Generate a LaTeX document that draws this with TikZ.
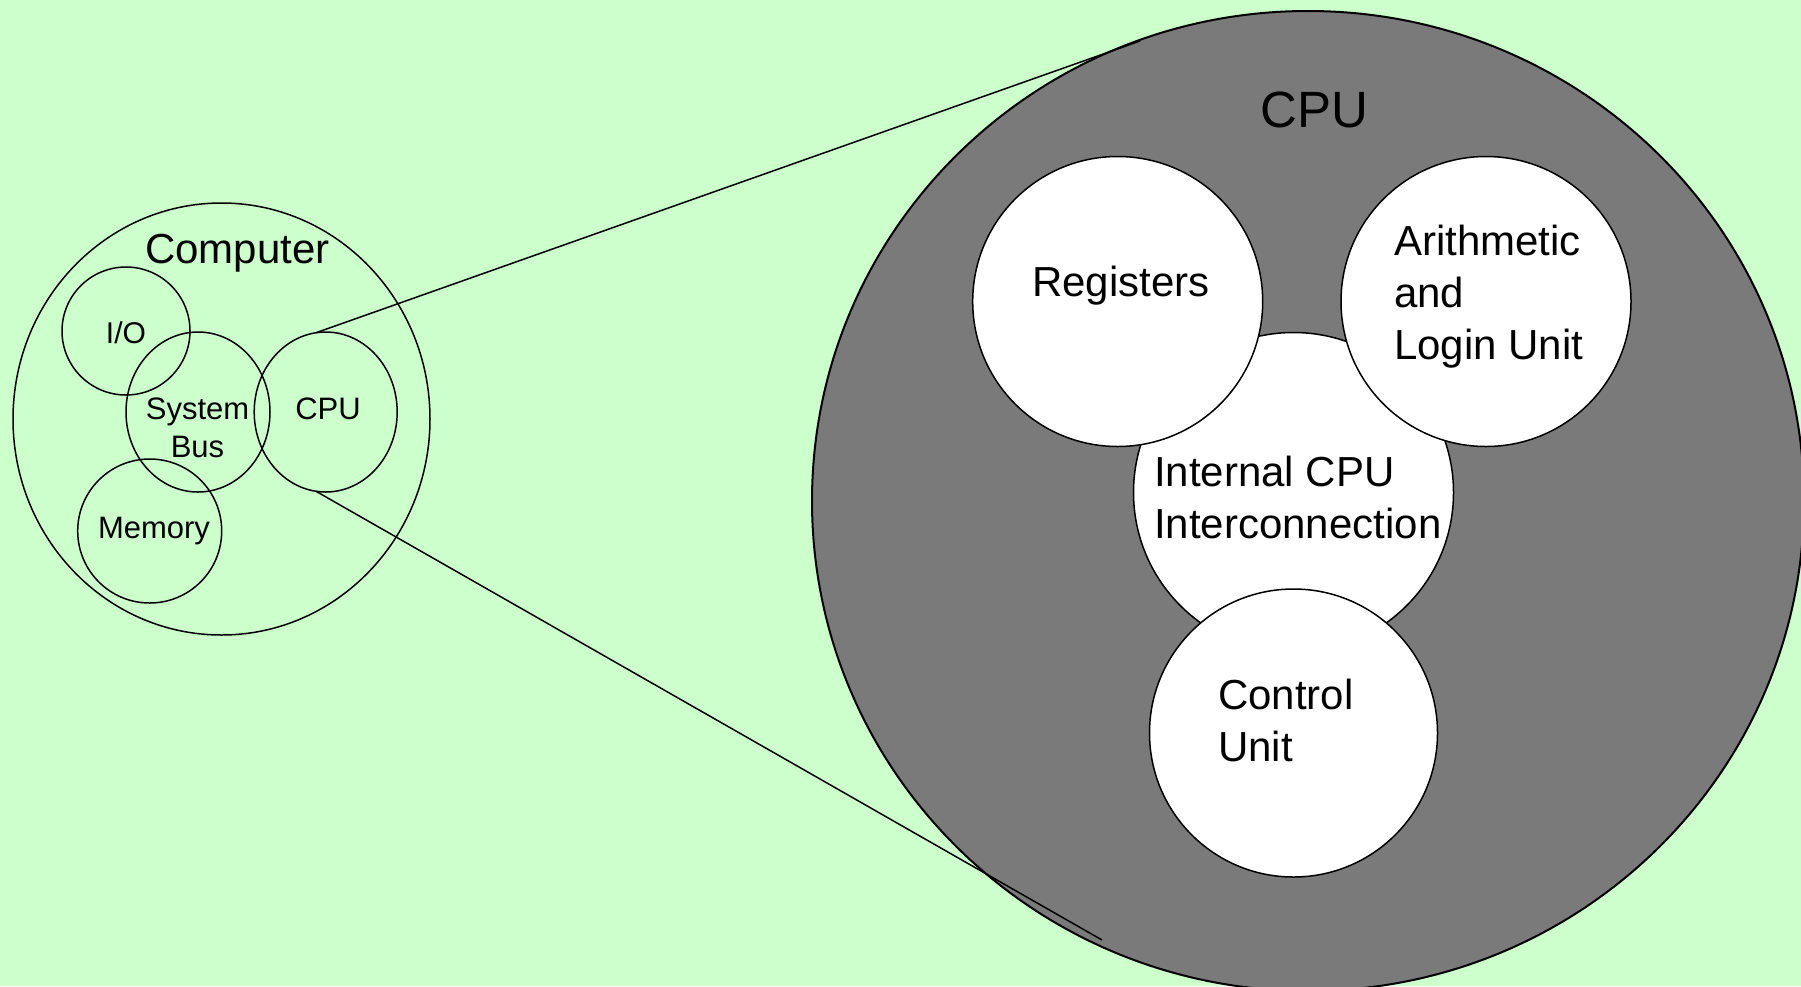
\documentclass[tikz,border=0pt]{standalone}
\usepackage{fontspec}
\setmainfont{Liberation Sans}
\usetikzlibrary{shapes.geometric}
\definecolor{bggreen}{RGB}{204,255,204}
\definecolor{cpugray}{gray}{0.48}
\tikzset{
  part/.style={ellipse, draw, line width=1.5pt, inner sep=0pt, outer sep=0pt},
  unit/.style={circle, draw, fill=white, line width=1.5pt, inner sep=0pt, outer sep=0pt, minimum size=#1},
  small/.style={font=\fontsize{31}{38}\selectfont, inner sep=0pt},
  big/.style={font=\fontsize{42}{52}\selectfont, inner sep=0pt},
}
\begin{document}
\begin{tikzpicture}[x=1pt, y=-1pt]
    \useasboundingbox (0,0) rectangle (1801,986);
    \fill[bggreen] (0,0) rectangle (1801,986);
    \clip (0,0) rectangle (1801,986);
    % Computer with its parts
    \node[part, minimum width=417pt, minimum height=432pt] (computer) at (221.5,419) {};
    \node[part, minimum width=128pt, minimum height=128pt] (io) at (126,331) {};
    \node[part, minimum width=144pt, minimum height=160pt] (bus) at (198,412) {};
    \node[part, minimum width=143pt, minimum height=160pt] (cpu) at (325.7,412) {};
    \node[part, minimum width=144pt, minimum height=144pt] (mem) at (149.7,531) {};
    \node[big, anchor=base] (computertxt) at (237.5,263) {Computer};
    \node[small, font=\fontsize{30}{36}\selectfont, anchor=base] (iotxt) at (126,343) {I/O};
    \node[small, anchor=base, align=center] (bustxt) at (197.5,457) {System\\Bus};
    \node[small, anchor=base] (cputxt) at (328,419) {CPU};
    \node[small, anchor=base] (memtxt) at (154,538) {Memory};
    % Zoomed CPU
    \node[ellipse, draw, fill=cpugray, line width=2pt, inner sep=0pt, minimum width=992pt, minimum height=980pt] (bigcpu) at (1308,501) {};
    \coordinate (topend) at (1140,41);
    \coordinate (botend) at (1102,940);
    \draw[line width=1.5pt] (cpu.97) -- (topend);
    \draw[line width=1.5pt] (cpu.263) -- (botend);
    \node[unit=320pt] (icc) at (1293.5,492.5) {};
    \node[unit=290pt] (regs) at (1117.7,301.5) {};
    \node[unit=290pt] (alu) at (1486,301.5) {};
    \node[unit=288pt] (ctrl) at (1293.5,733) {};
    \node[big, font=\fontsize{51}{60}\selectfont, anchor=base] (bigcputxt) at (1314,127) {CPU};
    \node[big, anchor=base] (regstxt) at (1121,296.5) {Registers};
    \node[big, anchor=base west, align=left] (alutxt) at (1394,359.5) {Arithmetic\\and\\Login Unit};
    \node[big, anchor=base west, align=left] (icctxt) at (1154,538.5) {Internal CPU\\Interconnection};
    \node[big, anchor=base west, align=left] (ctrltxt) at (1218,761) {Control\\Unit};
\end{tikzpicture}
\end{document}
